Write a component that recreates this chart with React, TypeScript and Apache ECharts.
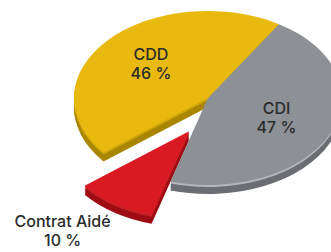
import { useEffect, useRef } from 'react';
import * as echarts from 'echarts';

// Data (counter-clockwise order around the pie)
const categories = ['CDD', 'Contrat Aidé', 'CDI'];
const values = [46, 10, 47];

// Styles
const TOP_COLORS = ['#E8B90E', '#D91A22', '#8D9095'];
const SIDE_COLORS = ['#A98600', '#9E0D14', '#6B6E73'];
const SIDE_LIGHT = ['#CFA60A', '#C62229', '#B4B6B9'];
const EXPLODE = [0, 40, 0];
const LABEL_RX = [0.57, 1.7, 0.56];
const LABEL_RY = [0.59, 1.375, 0.56];
const START_DEG = 58;
const CX = 208;
const CY = 98;
const RX = 134;
const K = 0.65;
const DEPTH = 9;

export default function App() {
  const ref = useRef<HTMLDivElement>(null);
  useEffect(() => {
    const chart = echarts.init(ref.current!, null, { renderer: 'svg' });
    const total = values.reduce((a, b) => a + b, 0);
    const angles: number[][] = [];
    let acc = START_DEG;
    values.forEach((v) => {
      const s = acc;
      acc += (v / total) * 360;
      angles.push([s, acc]);
    });
    const geom = (i: number) => {
      const [a0, a1] = angles[i];
      const mid = (((a0 + a1) / 2) * Math.PI) / 180;
      const d = EXPLODE[i];
      return { a0, a1, mid, ox: Math.cos(mid) * d * 0.85, oy: -Math.sin(mid) * d };
    };
    const sector = (i: number, dy: number, fill: string) => {
      const g = geom(i);
      return {
        type: 'group',
        x: CX + g.ox,
        y: CY + g.oy + dy,
        scaleY: K,
        children: [
          {
            type: 'sector',
            shape: {
              cx: 0,
              cy: 0,
              r0: 0,
              r: RX,
              startAngle: (-g.a0 * Math.PI) / 180,
              endAngle: (-g.a1 * Math.PI) / 180,
              clockwise: false,
            },
            style: { fill },
          },
        ],
      };
    };
    const data = values.map((v, i) => ({ name: categories[i], value: v }));
    chart.setOption({
      animation: false,
      backgroundColor: '#ffffff',
      series: [
        {
          type: 'custom',
          coordinateSystem: 'none',
          silent: true,
          z: 1,
          data,
          renderItem: (params: any) => {
            const i = params.dataIndex;
            const children: any[] = [];
            for (let d = DEPTH; d >= 1; d--) {
              children.push(sector(i, d, d <= 2 ? SIDE_LIGHT[i] : SIDE_COLORS[i]));
            }
            return { type: 'group', children };
          },
        },
        {
          type: 'custom',
          coordinateSystem: 'none',
          silent: true,
          z: 2,
          data,
          renderItem: (params: any) => {
            const i = params.dataIndex;
            const g = geom(i);
            const lx = CX + g.ox + Math.cos(g.mid) * RX * LABEL_RX[i];
            const ly = CY + g.oy - Math.sin(g.mid) * RX * K * LABEL_RY[i];
            return {
              type: 'group',
              children: [
                sector(i, 0, TOP_COLORS[i]),
                {
                  type: 'text',
                  x: lx,
                  y: ly,
                  style: {
                    text: `${categories[i]}\n${values[i]} %`,
                    align: 'center',
                    verticalAlign: 'middle',
                    fill: '#2b2b2b',
                    fontSize: 16,
                    fontWeight: 500,
                    fontFamily: 'Inter',
                    lineHeight: 19,
                  },
                },
              ],
            };
          },
        },
      ],
    });
    return () => chart.dispose();
  }, []);
  return (
    <div
      ref={ref}
      style={{ position: 'fixed', left: 0, top: 0, width: 331, height: 252 }}
    />
  );
}
